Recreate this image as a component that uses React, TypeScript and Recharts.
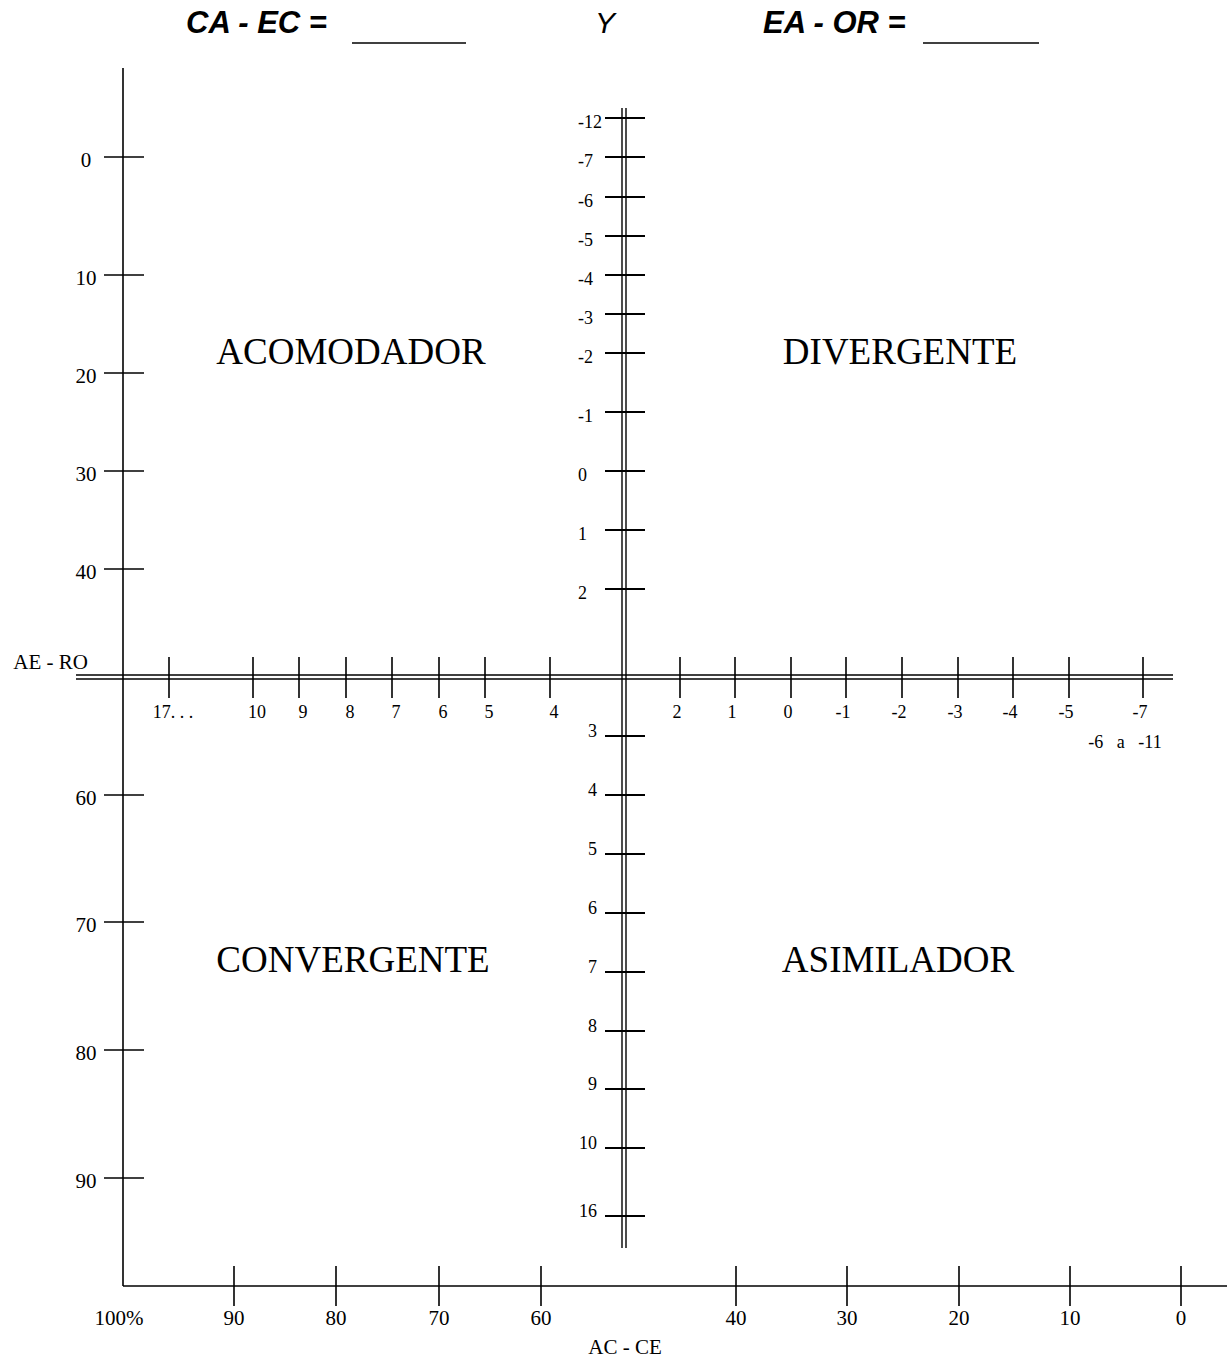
import { ReferenceLine, Scatter, ScatterChart, XAxis, YAxis } from "recharts";

const SERIF = "'Liberation Serif', 'Times New Roman', serif";
const SANS = "'Liberation Sans', Arial, sans-serif";

// the sheet is laid out in grid units (1 unit = 1px of the 1227 x 1359 page)
const SHEET_W = 1227;
const SHEET_H = 1359;
const X_MIN = 123; // outer left axis
const X_MAX = 1227;
const Y_MIN = 68;
const Y_MAX = 1286; // outer bottom axis
const CENTER_X = 624;
const CENTER_Y = 677;
const V_TOP = 108;
const V_BOTTOM = 1248;
const H_LEFT = 76;
const H_RIGHT = 1173;

// outer left scale
const outerYLabels = ["0", "10", "20", "30", "40", "60", "70", "80", "90"];
const outerYAt = [157, 275, 373, 471, 569, 795, 922, 1050, 1178];

// outer bottom scale (AC - CE)
const outerXLabels = ["100%", "90", "80", "70", "60", "40", "30", "20", "10", "0"];
const outerXAt = [123, 234, 336, 439, 541, 736, 847, 959, 1070, 1181];

// central vertical scale
const vUpLabels = ["-12", "-7", "-6", "-5", "-4", "-3", "-2", "-1", "0", "1", "2"];
const vUpAt = [118, 157, 197, 236, 275, 314, 353, 412, 471, 530, 589];
const vDownLabels = ["3", "4", "5", "6", "7", "8", "9", "10", "16"];
const vDownAt = [736, 795, 854, 913, 972, 1031, 1089, 1148, 1216];

// central horizontal scale (AE - RO)
const hLeftLabels = ["17. . .", "10", "9", "8", "7", "6", "5", "4"];
const hLeftAt = [169, 253, 299, 346, 392, 439, 485, 550];
const hRightLabels = ["2", "1", "0", "-1", "-2", "-3", "-4", "-5", "-7"];
const hRightAt = [680, 735, 791, 846, 902, 958, 1013, 1069, 1143];
const lastRightNote = "-6   a   -11";

// learning styles
const styleNames = ["ACOMODADOR", "DIVERGENTE", "CONVERGENTE", "ASIMILADOR"];
const styleX = [351, 900, 353, 898];
const styleY = [352, 352, 960, 960];

const vTicks = [
  ...vUpLabels.map((label, i) => ({ x: CENTER_X, y: vUpAt[i], label, up: true })),
  ...vDownLabels.map((label, i) => ({ x: CENTER_X, y: vDownAt[i], label, up: false })),
];
const hTicks = [
  ...hLeftLabels.map((label, i) => ({ x: hLeftAt[i], y: CENTER_Y, label, left: true, note: "" })),
  ...hRightLabels.map((label, i) => ({
    x: hRightAt[i],
    y: CENTER_Y,
    label,
    left: false,
    note: i === hRightLabels.length - 1 ? lastRightNote : "",
  })),
];
const styles = styleNames.map((name, i) => ({ x: styleX[i], y: styleY[i], name }));

const OuterYTick = (p: any) => {
  const { x, y, payload } = p;
  const label = outerYLabels[outerYAt.indexOf(payload.value)];
  return (
    <g>
      <line x1={x - 19} x2={x + 21} y1={y} y2={y} stroke="#000" strokeWidth={1.6} />
      <text x={x - 37} y={y + 10} textAnchor="middle" fontFamily={SERIF} fontSize={21} fill="#000">
        {label}
      </text>
    </g>
  );
};

const OuterXTick = (p: any) => {
  const { x, y, payload } = p;
  const label = outerXLabels[outerXAt.indexOf(payload.value)];
  const corner = payload.value === X_MIN;
  return (
    <g>
      {!corner && <line x1={x} x2={x} y1={y - 20} y2={y + 20} stroke="#000" strokeWidth={1.6} />}
      <text x={corner ? x - 4 : x} y={y + 39} textAnchor="middle" fontFamily={SERIF} fontSize={21} fill="#000">
        {label}
      </text>
    </g>
  );
};

const VTickShape = (p: any) => {
  const { cx, cy, payload } = p;
  return (
    <g>
      <line x1={cx - 19} x2={cx + 21} y1={cy} y2={cy} stroke="#000" strokeWidth={2} />
      <text
        x={payload.up ? cx - 46 : cx - 27}
        y={payload.up ? cy + 10 : cy + 1}
        textAnchor={payload.up ? "start" : "end"}
        fontFamily={SERIF}
        fontSize={18}
        fill="#000"
      >
        {payload.label}
      </text>
    </g>
  );
};

const HTickShape = (p: any) => {
  const { cx, cy, payload } = p;
  return (
    <g>
      <line x1={cx} x2={cx} y1={cy - 20} y2={cy + 21} stroke="#000" strokeWidth={1.6} />
      <text x={payload.left ? cx + 4 : cx - 3} y={cy + 41} textAnchor="middle" fontFamily={SERIF} fontSize={18} fill="#000">
        {payload.label}
      </text>
      {payload.note && (
        <text x={cx - 18} y={cy + 71} textAnchor="middle" fontFamily={SERIF} fontSize={18} fill="#000" xmlSpace="preserve">
          {payload.note}
        </text>
      )}
    </g>
  );
};

const StyleShape = (p: any) => (
  <text x={p.cx} y={p.cy + 12} textAnchor="middle" fontFamily={SERIF} fontSize={37} fill="#000">
    {p.payload.name}
  </text>
);

// two parallel strokes for the central cross
const DoubleLine = (p: any) => {
  const { x1, y1, x2, y2 } = p;
  const vertical = Math.abs(x1 - x2) < 0.5;
  const dx = vertical ? 2 : 0;
  const dy = vertical ? 0 : 2;
  return (
    <g>
      <line x1={x1 - dx} y1={y1 - dy} x2={x2 - dx} y2={y2 - dy} stroke="#000" strokeWidth={1.4} />
      <line x1={x1 + dx} y1={y1 + dy} x2={x2 + dx} y2={y2 + dy} stroke="#000" strokeWidth={1.4} />
    </g>
  );
};

export default function App() {
  const yAxisW = 60;
  const xAxisH = 60;
  return (
    <div style={{ position: "absolute", left: 0, top: 0, width: SHEET_W, height: SHEET_H, background: "#fff" }}>
      <svg width={SHEET_W} height={60} style={{ position: "absolute", left: 0, top: 0 }}>
        <text x={186} y={33} fontFamily={SANS} fontWeight="bold" fontStyle="italic" fontSize={31} fill="#000">
          CA - EC =
        </text>
        <line x1={352} x2={466} y1={43} y2={43} stroke="#000" strokeWidth={1.3} />
        <text x={605} y={33} textAnchor="middle" fontFamily={SANS} fontStyle="italic" fontSize={30} fill="#000">
          Y
        </text>
        <text x={763} y={33} fontFamily={SANS} fontWeight="bold" fontStyle="italic" fontSize={31} fill="#000">
          EA - OR =
        </text>
        <line x1={923} x2={1039} y1={43} y2={43} stroke="#000" strokeWidth={1.3} />
      </svg>
      <ScatterChart
        width={SHEET_W}
        height={SHEET_H}
        margin={{ top: Y_MIN, left: X_MIN - yAxisW, right: 0, bottom: SHEET_H - Y_MAX - xAxisH }}
      >
        <XAxis
          type="number"
          dataKey="x"
          domain={[X_MIN, X_MAX]}
          ticks={outerXAt}
          interval={0}
          height={xAxisH}
          tickSize={0}
          tickMargin={0}
          tickLine={false}
          axisLine={{ stroke: "#000", strokeWidth: 1.6 }}
          tick={OuterXTick}
        />
        <YAxis
          type="number"
          dataKey="y"
          reversed
          domain={[Y_MIN, Y_MAX]}
          ticks={outerYAt}
          interval={0}
          width={yAxisW}
          tickSize={0}
          tickMargin={0}
          tickLine={false}
          axisLine={{ stroke: "#000", strokeWidth: 1.6 }}
          tick={OuterYTick}
        />
        <ReferenceLine
          segment={[
            { x: CENTER_X, y: V_TOP },
            { x: CENTER_X, y: V_BOTTOM },
          ]}
          ifOverflow="visible"
          shape={DoubleLine}
          label={(lp: any) => (
            <text
              x={lp.viewBox.x + 1}
              y={lp.viewBox.y + lp.viewBox.height + 106}
              textAnchor="middle"
              fontFamily={SERIF}
              fontSize={21}
              fill="#000"
            >
              AC - CE
            </text>
          )}
        />
        <ReferenceLine
          segment={[
            { x: H_LEFT, y: CENTER_Y },
            { x: H_RIGHT, y: CENTER_Y },
          ]}
          ifOverflow="visible"
          shape={DoubleLine}
          label={(lp: any) => (
            <text x={lp.viewBox.x + 12} y={lp.viewBox.y - 8} textAnchor="end" fontFamily={SERIF} fontSize={21} fill="#000">
              AE - RO
            </text>
          )}
        />
        <Scatter data={vTicks} shape={VTickShape} isAnimationActive={false} />
        <Scatter data={hTicks} shape={HTickShape} isAnimationActive={false} />
        <Scatter data={styles} shape={StyleShape} isAnimationActive={false} />
      </ScatterChart>
    </div>
  );
}
